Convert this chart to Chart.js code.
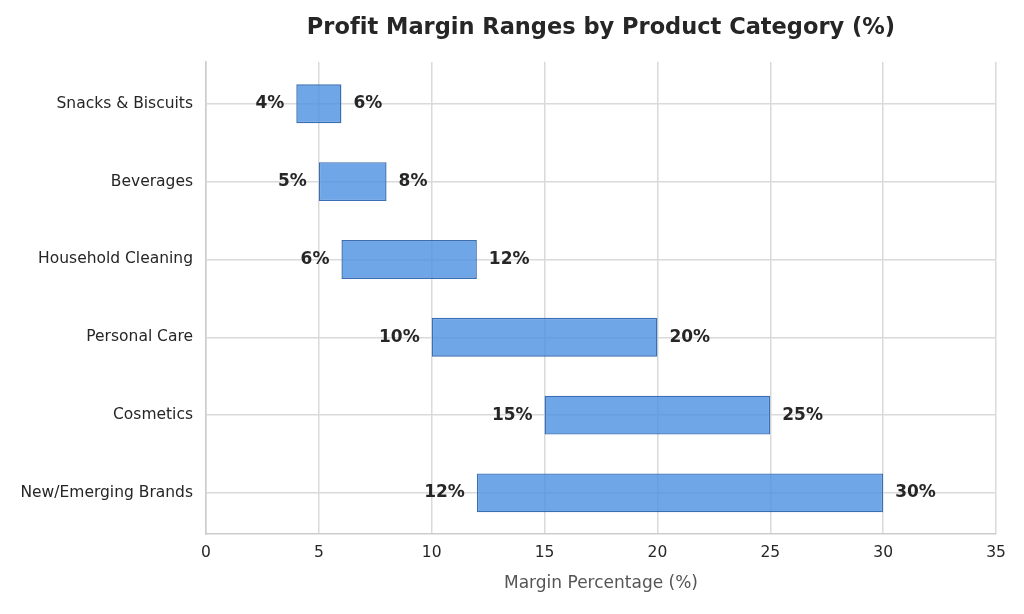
<!DOCTYPE html>
<html>
<head>
<meta charset="utf-8">
<script src="https://cdn.jsdelivr.net/npm/chart.js@4.4.1/dist/chart.umd.min.js"></script>
<style>
  html, body { margin: 0; padding: 0; background: #fff; }
  #wrap { width: 1024px; height: 614px; position: relative; }
</style>
</head>
<body>
<div id="wrap"><canvas id="chart" width="1024" height="614"></canvas></div>
<script>
const categories = ["Snacks & Biscuits", "Beverages", "Household Cleaning", "Personal Care", "Cosmetics", "New/Emerging Brands"];
const minMargins = [4, 5, 6, 10, 15, 12];
const maxMargins = [6, 8, 12, 20, 25, 30];
const xTicks = [0, 5, 10, 15, 20, 25, 30, 35];

const FONT = "'DejaVu Sans', Verdana, sans-serif";
const TEXT = "#262626";

// title centred over the plot area, like the reference (ZWNJ stops the "fi" ligature)
const titlePlugin = {
  id: "plotTitle",
  afterDraw(chart) {
    const { ctx, chartArea } = chart;
    ctx.save();
    ctx.font = `bold 22.5px ${FONT}`;
    ctx.fillStyle = TEXT;
    ctx.textAlign = "center";
    ctx.textBaseline = "middle";
    ctx.fillText("Prof\u200Cit Margin Ranges by Product Category (%)", (chartArea.left + chartArea.right) / 2, 28);
    ctx.restore();
  },
};

const rangeLabels = {
  id: "rangeLabels",
  afterDatasetsDraw(chart) {
    const { ctx } = chart;
    const meta = chart.getDatasetMeta(0);
    const xScale = chart.scales.x;
    ctx.save();
    ctx.font = `bold 17px ${FONT}`;
    ctx.fillStyle = TEXT;
    ctx.textBaseline = "middle";
    meta.data.forEach((bar, i) => {
      const y = bar.y;
      ctx.textAlign = "right";
      ctx.fillText(`${minMargins[i]}%`, xScale.getPixelForValue(minMargins[i]) - 12, y);
      ctx.textAlign = "left";
      ctx.fillText(`${maxMargins[i]}%`, xScale.getPixelForValue(maxMargins[i]) + 12, y);
    });
    ctx.restore();
  },
};

new Chart(document.getElementById("chart"), {
  type: "bar",
  data: {
    datasets: [{
      data: categories.map((_, i) => ({ y: i, x: [minMargins[i], maxMargins[i]] })),
      backgroundColor: "rgba(74, 144, 226, 0.8)",
      borderColor: "#3a6fb3",
      borderWidth: 1.4,
      borderSkipped: false,
      barPercentage: 0.5,
      categoryPercentage: 1,
    }],
  },
  options: {
    indexAxis: "y",
    responsive: false,
    animation: false,
    layout: { padding: { top: 62, right: 28, left: 0, bottom: 0 } },
    plugins: {
      legend: { display: false },
      tooltip: { enabled: false },
      title: { display: false },
    },
    scales: {
      x: {
        type: "linear",
        min: 0,
        max: 35,
        afterBuildTicks: (scale) => { scale.ticks = xTicks.map((v) => ({ value: v })); },
        afterFit: (scale) => { scale.height = 80; },
        grid: { color: "#dadada", lineWidth: 1.5, drawTicks: false },
        border: { display: true, color: "#cccccc", width: 1.5 },
        ticks: { color: TEXT, font: { family: FONT, size: 15.5 }, padding: 10 },
        title: {
          display: true,
          text: "Margin Percentage (%)",
          color: "#555555",
          font: { family: FONT, size: 17 },
          padding: { top: 0, bottom: 20 },
        },
      },
      y: {
        type: "linear",
        reverse: true,
        offset: false,
        min: -0.537,
        max: categories.length - 0.472,
        afterBuildTicks: (scale) => { scale.ticks = categories.map((_, i) => ({ value: i })); },
        afterFit: (scale) => { scale.width = 206; },
        grid: { color: "#dadada", lineWidth: 1.5, drawTicks: false, offset: false },
        border: { display: true, color: "#cccccc", width: 1.5 },
        ticks: {
          color: TEXT,
          font: { family: FONT, size: 15.5 },
          padding: 13,
          callback: (value) => categories[value] ?? "",
        },
      },
    },
  },
  plugins: [titlePlugin, rangeLabels],
});
</script>
</body>
</html>
